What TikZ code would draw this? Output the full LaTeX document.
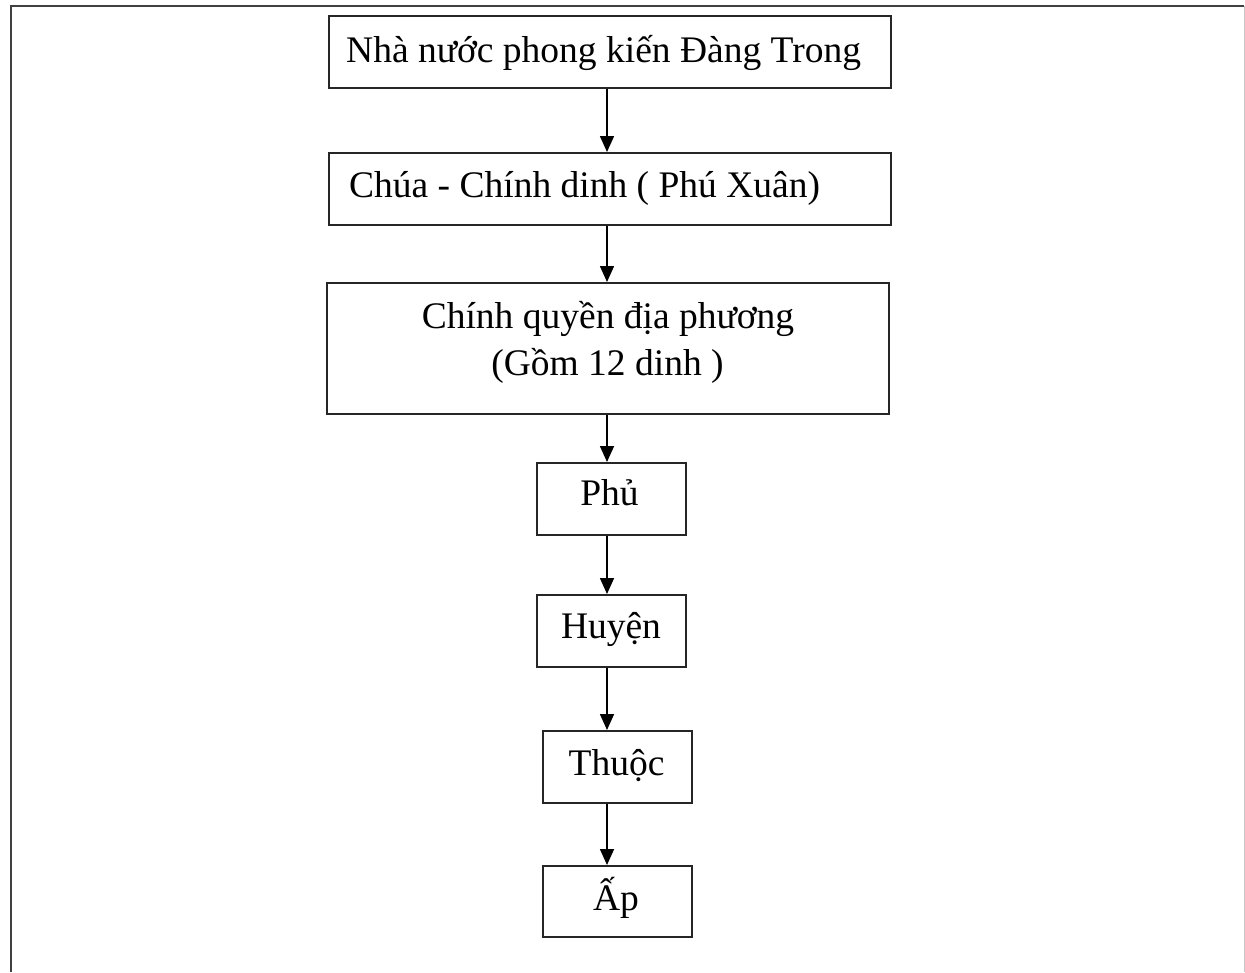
\documentclass[tikz,border=0pt]{standalone}
\usepackage{fontspec}
\setmainfont{Liberation Serif}
\usetikzlibrary{arrows.meta}
\definecolor{boxline}{HTML}{262626}
\definecolor{frameline}{HTML}{404040}
\tikzset{
  box/.style={draw=boxline, line width=2pt, inner sep=0pt, minimum width=#1},
  box/.default=562pt,
  lbl/.style={inner sep=0pt, font=\fontsize{37.5}{47}\selectfont, text=black},
  conn/.style={draw=black, line width=1.6pt, -{Triangle[length=16pt,width=14pt]}},
}
\begin{document}
\begin{tikzpicture}[x=1pt,y=-1pt]
\useasboundingbox (0,0) rectangle (1245,972);
\fill[white] (0,0) rectangle (1245,972);
% outer frame (open at the bottom)
\draw[frameline, line width=2.6pt] (11,972) -- (11,6) -- (1244,6);
\draw[gray!45, line width=1pt] (1244.5,6) -- (1244.5,972);
% boxes
\node[box, minimum height=72pt] (b1) at (610,52) {};
\node[box, minimum height=72pt] (b2) at (610,189) {};
\node[box, minimum height=131pt] (b3) at (608,348.5) {};
\node[box=149pt, minimum height=72pt] (b4) at (611.5,499) {};
\node[box=149pt, minimum height=72pt] (b5) at (611.5,631) {};
\node[box=149pt, minimum height=72pt] (b6) at (617.5,767) {};
\node[box=149pt, minimum height=71pt] (b7) at (617.5,901.5) {};
% texts
\node[lbl, anchor=base west] (t1) at (346,62) {Nhà nước phong kiến Đàng Trong};
\node[lbl, anchor=base west] (t2) at (349,197) {Chúa - Chính dinh ( Phú Xuân)};
\node[lbl, anchor=base] (t3a) at (608,328) {Chính quyền địa phương};
\node[lbl, anchor=base] (t3b) at (607.5,375) {(Gồm 12 dinh )};
\node[lbl, anchor=base] (t4) at (609.5,505) {Phủ};
\node[lbl, anchor=base] (t5) at (611,638) {Huyện};
\node[lbl, anchor=base] (t6) at (616.5,775) {Thuộc};
\node[lbl, anchor=base] (t7) at (616,910) {Ấp};
% connectors
\coordinate (ax) at (607,0);
\draw[conn] (b1.south -| ax) -- (b2.north -| ax);
\draw[conn] (b2.south -| ax) -- (b3.north -| ax);
\draw[conn] (b3.south -| ax) -- (b4.north -| ax);
\draw[conn] (b4.south -| ax) -- (b5.north -| ax);
\draw[conn] (b5.south -| ax) -- (b6.north -| ax);
\draw[conn] (b6.south -| ax) -- (b7.north -| ax);
\end{tikzpicture}
\end{document}
